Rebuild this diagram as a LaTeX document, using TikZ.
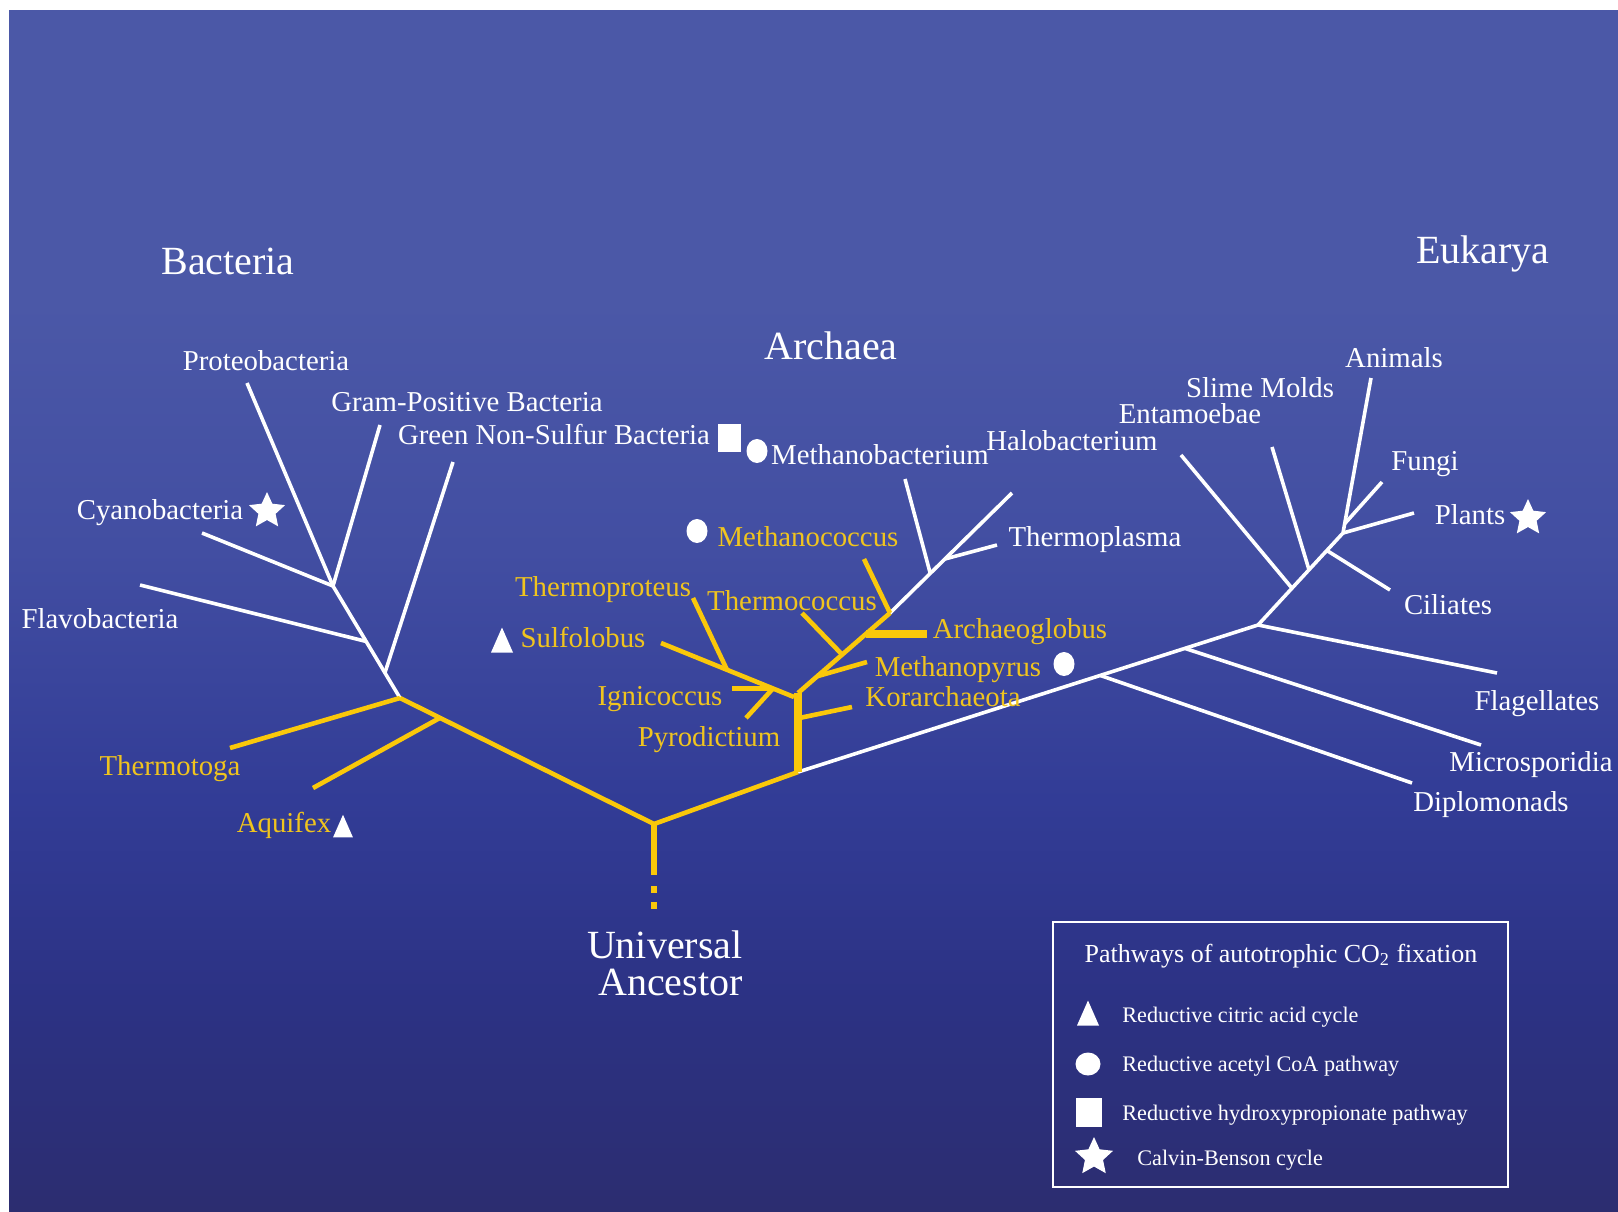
\documentclass[tikz,border=0pt]{standalone}
\usepackage{fontspec}
\setmainfont{Liberation Serif}
\usetikzlibrary{calc,shapes.geometric}
\definecolor{bgA}{RGB}{75,88,167}
\definecolor{bgB}{RGB}{66,78,162}
\definecolor{bgC}{RGB}{50,60,150}
\definecolor{bgD}{RGB}{44,50,132}
\definecolor{bgE}{RGB}{44,45,112}
\definecolor{gold}{RGB}{250,200,10}
\definecolor{goldtext}{RGB}{240,196,30}
\pgfdeclareverticalshading{bgshade}{100bp}{color(0bp)=(bgE); color(25bp)=(bgE); color(33.8bp)=(bgD); color(42.1bp)=(bgC); color(52.5bp)=(bgB); color(62.9bp)=(bgA); color(75bp)=(bgA); color(100bp)=(bgA)}
\begin{document}
\begin{tikzpicture}[x=0.5pt,y=-0.5pt,
  wl/.style={draw=white,line width=1.8pt},
  yl/.style={draw=gold,line width=2.3pt},
  lab/.style={text=white,inner sep=0pt,text depth=0pt,font=\fontsize{14.4}{16}\selectfont},
  ylab/.style={lab,text=goldtext},
  dom/.style={text=white,inner sep=0pt,text depth=0pt,font=\fontsize{20}{22}\selectfont},
  dotsym/.style={ellipse,fill=white,inner sep=0pt,minimum width=10.5pt,minimum height=12pt},
  sqsym/.style={rectangle,fill=white,inner sep=0pt,minimum width=11.5pt,minimum height=14pt},
  starsym/.style={star,star points=5,star point ratio=2.1,fill=white,inner sep=0pt,minimum size=19pt},
  leg/.style={text=white,inner sep=0pt,text depth=0pt,anchor=west,font=\fontsize{11.1}{13}\selectfont},
  tri/.pic={\fill[white] (-11,12.5) -- (11,12.5) -- (0,-12.5) -- cycle;}
]
\useasboundingbox (0,0) rectangle (1618,1211);
\fill[white] (0,0) rectangle (1618,1211);
\shade[shading=bgshade] (9,10) rectangle (1618,1211);

% ---------- coordinates: root and bacteria
\coordinate (U) at (654,824);
\coordinate (Us) at (654,875);
\coordinate (Ud1) at (654,886);
\coordinate (Ud2) at (654,909);
\coordinate (B0) at (400,698);
\coordinate (Bq) at ($(U)!0.8425!(B0)$);
\coordinate (TtE) at (230,748);
\coordinate (AqE) at (313,788);
\coordinate (J1) at (333,586);
\coordinate (Bg) at ($(B0)!0.225!(J1)$);
\coordinate (Bf) at ($(B0)!0.505!(J1)$);
\coordinate (GnE) at (453,462);
\coordinate (FvE) at (140,585);
\coordinate (PrE) at (247,383);
\coordinate (GpE) at (380,425);
\coordinate (CyE) at (202,533);
% ---------- archaea
\coordinate (A0) at (798,772);
\coordinate (A1) at (798,693);
\coordinate (Kj) at ($(A0)!0.68!(A1)$);
\coordinate (KoE) at (852,707);
\coordinate (Cs) at (794,697);
\coordinate (SuE) at (661,643);
\coordinate (Ij) at ($(Cs)!0.158!(SuE)$);
\coordinate (Tj) at ($(Cs)!0.504!(SuE)$);
\coordinate (ThE) at (693,598);
\coordinate (IgE) at ($(Ij)+(-41,0)$);
\coordinate (PyE) at (746,718);
\coordinate (E1) at (890,613);
\coordinate (Mpj) at ($(A1)!0.21!(E1)$);
\coordinate (Tcj) at ($(A1)!0.48!(E1)$);
\coordinate (Agj) at ($(A1)!0.74!(E1)$);
\coordinate (AgE) at ($(Agj)+(61,0)$);
\coordinate (MpE) at (867,662);
\coordinate (TcE) at (802,613);
\coordinate (McE) at (864,559);
\coordinate (HaE) at (1012,493);
\coordinate (Mbj) at ($(E1)!0.33!(HaE)$);
\coordinate (Tpj) at ($(E1)!0.45!(HaE)$);
\coordinate (MbE) at (905,479);
\coordinate (TpE) at (997,545);
% ---------- eukarya
\coordinate (EfJ) at (1258,625);
\coordinate (Dj) at ($(A0)!0.657!(EfJ)$);
\coordinate (Mij) at ($(A0)!0.841!(EfJ)$);
\coordinate (DiE) at (1412,783);
\coordinate (MiE) at (1481,745);
\coordinate (FlE) at (1497,673);
\coordinate (Pj) at (1343,533);
\coordinate (Enj) at ($(EfJ)!0.4!(Pj)$);
\coordinate (Slj) at ($(EfJ)!0.6!(Pj)$);
\coordinate (Cij) at ($(EfJ)!0.81!(Pj)$);
\coordinate (EnE) at (1181,455);
\coordinate (SlE) at (1272,447);
\coordinate (CiE) at (1390,590);
\coordinate (AnE) at (1371,378);
\coordinate (Fj) at ($(Pj)!0.06!(AnE)$);
\coordinate (FuE) at (1382,482);
\coordinate (PlE) at (1414,513);

% ---------- white branches
\draw[wl] (B0) -- (J1);
\draw[wl] (Bg) -- (GnE);
\draw[wl] (Bf) -- (FvE);
\draw[wl] (J1) -- (PrE);
\draw[wl] (J1) -- (GpE);
\draw[wl] (J1) -- (CyE);
\draw[wl] (E1) -- (HaE);
\draw[wl] (Mbj) -- (MbE);
\draw[wl] (Tpj) -- (TpE);
\draw[wl] (A0) -- (EfJ) -- (Pj) -- (AnE);
\draw[wl] (Dj) -- (DiE);
\draw[wl] (Mij) -- (MiE);
\draw[wl] (EfJ) -- (FlE);
\draw[wl] (Enj) -- (EnE);
\draw[wl] (Slj) -- (SlE);
\draw[wl] (Cij) -- (CiE);
\draw[wl] (Fj) -- (FuE);
\draw[wl] (Pj) -- (PlE);

% ---------- yellow branches
\draw[yl,line join=miter] (B0) -- (U) -- (A0);
\draw[yl] (TtE) -- (B0);
\draw[yl] (Bq) -- (AqE);
\draw[yl,line width=2.6pt] (U) -- (Us);
\draw[yl,line width=2.6pt,dash pattern=on 3.5pt off 4.5pt] (Ud1) -- (Ud2);
\draw[yl] (Cs) -- (SuE);
\draw[yl] (Tj) -- (ThE);
\draw[yl] (Ij) -- (IgE);
\draw[yl] (Ij) -- (PyE);
\draw[yl] (Kj) -- (KoE);
\draw[yl] (A1) -- (E1);
\draw[yl] (Mpj) -- (MpE);
\draw[yl] (Tcj) -- (TcE);
\draw[yl] (E1) -- (McE);
\draw[yl,line width=4pt] (Agj) -- (AgE);
\draw[yl,line width=4pt] (A0) -- (A1);

% ---------- domain names
\node[dom] (nBac) at (228,261) {Bacteria};
\node[dom] (nArc) at (831,346) {Archaea};
\node[dom] (nEuk) at (1483,250) {Eukarya};
\node[text=white,inner sep=0pt,anchor=base east,align=right,font=\fontsize{20}{18.5}\selectfont] (nUA) at (743,995) {Universal\\Ancestor};

% ---------- white labels
\node[lab] (lPro) at (266,361) {Proteobacteria};
\node[lab] (lGra) at (467,402) {Gram-Positive Bacteria};
\node[lab] (lGre) at (554,434) {Green Non-Sulfur Bacteria};
\node[lab] (lCya) at (160,509) {Cyanobacteria};
\node[lab] (lFla) at (100,618) {Flavobacteria};
\node[lab] (lMba) at (880,454) {Methanobacterium};
\node[lab] (lHal) at (1072,441) {Halobacterium};
\node[lab] (lTpl) at (1095,536) {Thermoplasma};
\node[lab] (lAni) at (1394,357) {Animals};
\node[lab] (lSli) at (1260,387) {Slime Molds};
\node[lab] (lEnt) at (1190,414) {Entamoebae};
\node[lab] (lFun) at (1425,461) {Fungi};
\node[lab] (lPla) at (1470,514) {Plants};
\node[lab] (lCil) at (1448,604) {Ciliates};
\node[lab] (lFlg) at (1537,700) {Flagellates};
\node[lab] (lMic) at (1531,761) {Microsporidia};
\node[lab] (lDip) at (1491,801) {Diplomonads};

% ---------- yellow labels
\node[ylab] (lTto) at (170,765) {Thermotoga};
\node[ylab] (lAqu) at (284,822) {Aquifex};
\node[ylab] (lMco) at (808,536) {Methanococcus};
\node[ylab] (lTpr) at (603,586) {Thermoproteus};
\node[ylab] (lTco) at (792,600) {Thermococcus};
\node[ylab] (lArg) at (1020,628) {Archaeoglobus};
\node[ylab] (lSul) at (583,637) {Sulfolobus};
\node[ylab] (lMpy) at (958,666) {Methanopyrus};
\node[ylab] (lKor) at (943,696) {Korarchaeota};
\node[ylab] (lIgn) at (660,696) {Ignicoccus};
\node[ylab] (lPyr) at (709,736) {Pyrodictium};

% ---------- pathway symbols
\node[sqsym] (sGre) at (729,438) {};
\node[dotsym] (sMba) at (757,451) {};
\node[dotsym] (sMco) at (697,531) {};
\node[dotsym] (sMpy) at (1064,664) {};
\pic at (502,640) {tri};
\pic[scale=0.9] at (343,826) {tri};
\node[starsym] (sCya) at (267,511) {};
\node[starsym] (sPla) at (1528,518) {};

% ---------- legend
\draw[white,line width=1.1pt] (1053,922) rectangle (1508,1187);
\node[text=white,inner sep=0pt,text depth=0pt,font=\fontsize{13}{15}\selectfont] (legT) at (1281,953) {Pathways of autotrophic CO\textsubscript{2} fixation};
\pic at (1088,1013) {tri};
\node[dotsym,minimum width=12.5pt,minimum height=11.5pt] (legC) at (1088,1064) {};
\node[sqsym,minimum width=13pt,minimum height=14.5pt] (legS) at (1089,1112) {};
\node[starsym,minimum size=20pt] (legSt) at (1094,1157) {};
\node[leg] (legt1) at (1122,1015) {Reductive citric acid cycle};
\node[leg] (legt2) at (1122,1064) {Reductive acetyl CoA pathway};
\node[leg] (legt3) at (1122,1113) {Reductive hydroxypropionate pathway};
\node[leg] (legt4) at (1137,1158) {Calvin-Benson cycle};
\end{tikzpicture}
\end{document}
